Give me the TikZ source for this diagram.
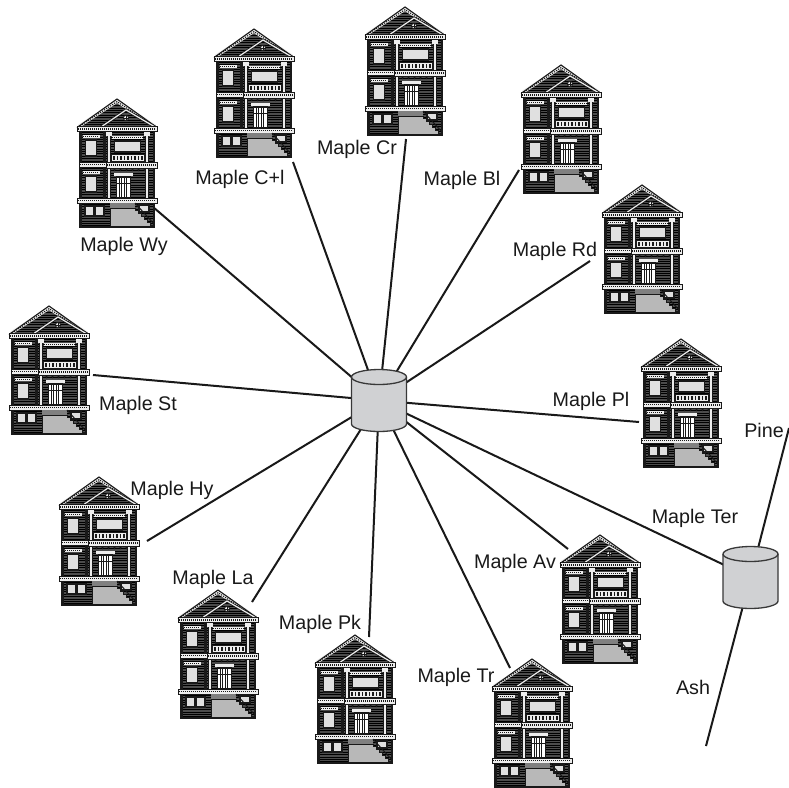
\documentclass[tikz,border=0pt]{standalone}
\usepackage{fontspec}
\setmainfont{Liberation Sans}
\definecolor{ink}{gray}{0.1}
\definecolor{siding}{gray}{0.3}
\definecolor{trim}{gray}{0.93}
\definecolor{glass}{gray}{0.88}
\definecolor{stair}{gray}{0.72}
\definecolor{stairdark}{gray}{0.5}
\definecolor{cylfill}{RGB}{208,209,211}
\definecolor{cylline}{gray}{0.22}
\begin{document}
\begin{tikzpicture}[x=1pt,y=-1pt,
  link/.style={draw=ink, line width=2pt},
  lab/.style={font=\fontsize{19.7}{22}\selectfont, text=ink, inner sep=0pt, anchor=base},
  hubnode/.style={inner sep=0pt, minimum width=55pt, minimum height=61pt},
  groove/.style={draw=black, line width=0.6pt},
  % a Victorian row house, origin at left eave / ridge height, 80 x 128
  house/.pic={
    % siding of the body
    \fill[siding] (2,30) rectangle (78,128);
    \foreach \yy in {33,35.4,...,127} \draw[groove] (2,\yy) -- (78,\yy);
    \fill[ink] (2,33) rectangle (4.5,128);
    \fill[ink] (75.5,33) rectangle (78,128);
    \fill[ink] (26,33) rectangle (29,99);
    % gable
    \begin{scope}
      \clip (0,28) -- (40,0) -- (80,28) -- cycle;
      \fill[siding] (0,0) rectangle (80,28);
      \foreach \yy in {4,6.4,...,28} \draw[groove] (0,\yy) -- (80,\yy);
    \end{scope}
    \draw[trim, line width=3.2pt] (2,27) -- (40,2.2) -- (78,27);
    \draw[ink, line width=1pt, dash pattern=on 1.2pt off 1.2pt] (3,27) -- (40,2.6) -- (77,27);
    \draw[ink, line width=1.1pt] (0,28.5) -- (40,0) -- (80,28.5);
    \draw[ink, line width=2.8pt] (24,28) -- (49,11) -- (78,28);
    \draw[trim, line width=1.2pt] (24,28) -- (49,11) -- (78,28);
    \draw[ink, fill=trim, line width=0.8pt] (49,19) circle (2.6);
    \draw[ink, line width=0.5pt] (46.4,19) -- (51.6,19) (49,16.4) -- (49,21.6);
    % cornice
    \fill[trim] (0,27) rectangle (80,32.5);
    \draw[ink, line width=1.4pt, dash pattern=on 1pt off 1pt] (1,29.8) -- (79,29.8);
    \draw[ink, line width=0.8pt] (0,27) rectangle (80,32.5);
    % columns
    \foreach \cx in {30,68} {
      \fill[trim] (\cx,34) rectangle (\cx+3.5,99);
      \draw[ink, line width=0.6pt] (\cx,34) rectangle (\cx+3.5,99);
      \fill[trim] (\cx-1,33) rectangle (\cx+4.5,37);
    }
    % bay windows
    \foreach \wy in {41,77} {
      \fill[trim] (5.5,\wy-5) rectangle (22.5,\wy-2);
      \draw[ink, line width=0.8pt, dash pattern=on 1pt off 1pt] (6,\wy-3.5) -- (22,\wy-3.5);
      \draw[ink, line width=1.6pt, fill=glass] (8.5,\wy) rectangle (19.5,\wy+16);
    }
    % upper front window and balcony
    \fill[trim] (35,37) rectangle (66,40);
    \draw[ink, line width=0.8pt, dash pattern=on 1pt off 1pt] (35,38.5) -- (66,38.5);
    \draw[ink, line width=1.6pt, fill=glass] (37.5,42) rectangle (63.5,53);
    \fill[trim] (34,55) rectangle (67,62);
    \foreach \bx in {36,39.5,...,65} \fill[ink] (\bx,56.5) rectangle (\bx+1.6,61);
    \draw[ink, line width=0.6pt] (34,55) rectangle (67,62);
    % floor bands
    \fill[trim] (2,63) rectangle (29,68);
    \draw[ink, line width=1.2pt, dash pattern=on 1pt off 1pt] (3,65.5) -- (28,65.5);
    \draw[ink, line width=0.6pt] (2,63) rectangle (29,68);
    \fill[trim] (29,63) rectangle (80,69);
    \draw[ink, line width=1.2pt, dash pattern=on 1pt off 1pt] (30,66) -- (79,66);
    \draw[ink, line width=0.6pt] (29,63) rectangle (80,69);
    \foreach \bx in {36,42,...,66} \fill[ink] (\bx,69) -- (\bx+3,69) -- (\bx+1.5,72.5) -- cycle;
    % front door
    \fill[trim] (37,74) rectangle (56,77);
    \draw[ink, line width=1.2pt, fill=white] (39.5,78) rectangle (53.5,99);
    \foreach \dx in {42,44.5,...,51.5} \draw[ink, line width=0.5pt] (\dx,79) -- (\dx,98);
    \draw[ink, line width=0.5pt] (39.5,84) -- (53.5,84);
    % porch floor
    \fill[trim] (0,99) rectangle (80,104);
    \draw[ink, line width=1.2pt, dash pattern=on 1pt off 1pt] (1,101.5) -- (79,101.5);
    \draw[ink, line width=0.6pt] (0,99) rectangle (80,104);
    % basement windows
    \draw[ink, line width=1.6pt, fill=glass] (8,107) rectangle (17,117) (18,107) rectangle (27,117);
    \draw[ink, line width=1.6pt, fill=glass] (62,106) rectangle (72,113);
    % stairs
    \fill[stairdark] (33,104) rectangle (58,109);
    \fill[stair] (33,109) -- (58,109) -- (58,111) -- (61,111) -- (61,114) -- (64,114) -- (64,117)
      -- (67,117) -- (67,120) -- (70,120) -- (70,123) -- (73,123) -- (73,126) -- (76,126)
      -- (76,128) -- (33,128) -- cycle;
    \draw[ink, line width=0.8pt] (33,128) -- (33,109) -- (58,109) -- (58,111) -- (61,111) -- (61,114)
      -- (64,114) -- (64,117) -- (67,117) -- (67,120) -- (70,120) -- (70,123) -- (73,123)
      -- (73,126) -- (76,126) -- (76,128);
    \draw[ink, line width=1pt] (58,104) -- (77,125);
    \draw[ink, line width=1.2pt] (2,128) -- (78,128);
  },
  % storage cylinder centred on its node
  dbcyl/.pic={
    \fill[cylfill] (-27.5,-23.5) -- (-27.5,23.5)
      arc[start angle=180, end angle=0, x radius=27.5, y radius=7.5]
      -- (27.5,-23.5) arc[start angle=0, end angle=-180, x radius=27.5, y radius=7.5] -- cycle;
    \draw[cylline, line width=1.3pt] (-27.5,-23.5) -- (-27.5,23.5)
      arc[start angle=180, end angle=0, x radius=27.5, y radius=7.5] -- (27.5,-23.5);
    \draw[cylline, line width=1.3pt] (0,-23.5) ellipse[x radius=27.5, y radius=7.5];
  }
]
\useasboundingbox (0,0) rectangle (789,787);

% hubs
\node[hubnode] (hub) at (379,400.5) {};
\node[hubnode] (hub2) at (750.5,577.5) {};

% free ends of the links
\coordinate (ewy) at (153,207);
\coordinate (ecl) at (293,162);
\coordinate (ecr) at (406,139);
\coordinate (ebl) at (519,170);
\coordinate (erd) at (590,261);
\coordinate (est) at (93,375);
\coordinate (epl) at (639,422);
\coordinate (ehy) at (147,541);
\coordinate (ela) at (252,602);
\coordinate (epk) at (369,637);
\coordinate (etr) at (510,668);
\coordinate (eav) at (568,549);
\coordinate (epine) at (789,428);
\coordinate (eash) at (706,746);

% links
\foreach \e in {ewy,ecl,ecr,ebl,erd,est,epl,ehy,ela,epk,etr,eav}
  \draw[link] (hub.center) -- (\e);
\draw[link] (hub.center) -- (hub2.center);
\draw[link] (hub2.center) -- (epine);
\draw[link] (hub2.center) -- (eash);

% houses
\pic (hwy) at (77,99) {house};
\pic (hcl) at (214,29) {house};
\pic (hcr) at (365,7) {house};
\pic (hbl) at (521,65) {house};
\pic (hrd) at (602,185) {house};
\pic (hst) at (9,306) {house};
\pic (hpl) at (641,339) {house};
\pic (hhy) at (59,477) {house};
\pic (hla) at (178,590) {house};
\pic (hpk) at (315,635) {house};
\pic (hav) at (560,535) {house};
\pic (htr) at (492,659) {house};

% cylinders
\pic at (hub.center) {dbcyl};
\pic at (hub2.center) {dbcyl};

% labels
\node[lab] (lwy) at (124,251) {Maple Wy};
\node[lab] (lcl) at (240,184) {Maple C+l};
\node[lab] (lcr) at (357,154) {Maple Cr};
\node[lab] (lbl) at (462,185) {Maple Bl};
\node[lab] (lrd) at (555,256) {Maple Rd};
\node[lab] (lst) at (138,410) {Maple St};
\node[lab] (lpl) at (591,406) {Maple Pl};
\node[lab] (lhy) at (172,495) {Maple Hy};
\node[lab] (lla) at (213,584) {Maple La};
\node[lab] (lpk) at (320,629) {Maple Pk};
\node[lab] (lav) at (515,568) {Maple Av};
\node[lab] (ltr) at (456,682) {Maple Tr};
\node[lab] (lter) at (695,523) {Maple Ter};
\node[lab] (lpine) at (764,437) {Pine};
\node[lab] (lash) at (693,694) {Ash};
\end{tikzpicture}
\end{document}
